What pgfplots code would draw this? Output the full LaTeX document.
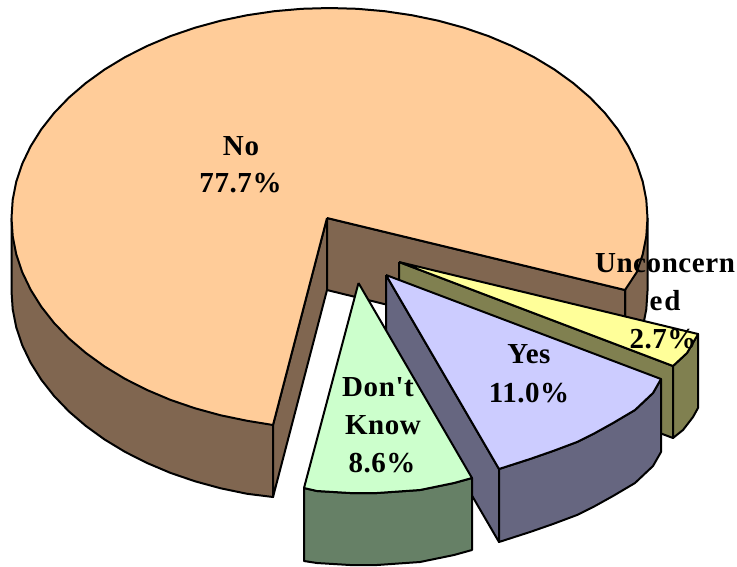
\documentclass[border=0pt]{standalone}
\usepackage{pgfplots}
\pgfplotsset{compat=1.18}
\usepackage{fontspec}
\setmainfont{Liberation Serif}
\newfontfamily\labfont[LetterSpace=2]{Liberation Serif}
\definecolor{noT}{HTML}{FFCC99}
\definecolor{noS}{HTML}{806650}
\definecolor{yesT}{HTML}{CCCCFF}
\definecolor{yesS}{HTML}{666680}
\definecolor{dkT}{HTML}{CCFFCC}
\definecolor{dkS}{HTML}{668066}
\definecolor{unT}{HTML}{FFFF99}
\definecolor{unS}{HTML}{808050}
\newcommand{\lab}[3]{\node[anchor=base,inner sep=0pt] at (axis cs:#1,#2) {\labfont\fontsize{29}{33}\selectfont\bfseries #3};}
\begin{document}
\begin{tikzpicture}
\path[use as bounding box] (0,0) rectangle (737pt,566pt);
\begin{axis}[
  at={(0,0)},anchor=south west,
  width=737pt,height=566pt,scale only axis,hide axis,
  xmin=0,xmax=737,ymin=0,ymax=566,y dir=reverse,clip=false,
  every axis plot/.append style={draw=black,line width=2pt,line join=round,mark=none,forget plot}]
% No: rims and cut faces
\addplot[fill=noS] coordinates {(647.5,218)(647.5,291)(646.3,309.3)(642.7,327.5)(636.7,345.3)(628.3,362.8)(625,363)(625,290)(647.5,218)};
\addplot[fill=noS] coordinates {(11.5,218)(11.5,291)(12.7,309.3)(16.3,327.5)(22.3,345.3)(30.7,362.8)(41.3,379.7)(54.1,396)(69,411.5)(85.9,426)(104.6,439.5)(125.1,451.9)(147.1,463)(170.5,472.9)(195.1,481.3)(220.7,488.3)(247.2,493.8)(273,497)(273,425)(11.5,218)};
\addplot[fill=noS] coordinates {(327,218)(273,425)(273,497)(327,290)(327,218)};
\addplot[fill=noS] coordinates {(327,218)(625,290)(625,363)(327,290)(327,218)};
% No: top
\addplot[fill=noT] coordinates {(327,218)(625,290)(636.7,272.3)(642.7,254.5)(646.3,236.3)(647.5,218)(646.3,199.7)(642.7,181.5)(636.7,163.7)(628.3,146.2)(617.7,129.3)(604.9,113)(590,97.5)(573.1,83)(554.4,69.5)(533.9,57.1)(511.9,46)(488.5,36.1)(463.9,27.7)(438.3,20.7)(411.8,15.2)(384.7,11.2)(357.2,8.8)(329.5,8)(301.8,8.8)(274.3,11.2)(247.2,15.2)(220.7,20.7)(195.1,27.7)(170.5,36.1)(147.1,46)(125.1,57.1)(104.6,69.5)(85.9,83)(69,97.5)(54.1,113)(41.3,129.3)(30.7,146.2)(22.3,163.7)(16.3,181.5)(12.7,199.7)(11.5,218)(12.7,236.3)(16.3,254.5)(22.3,272.3)(30.7,289.8)(41.3,306.7)(54.1,323)(69,338.5)(85.9,353)(104.6,366.5)(125.1,378.9)(147.1,390)(170.5,399.9)(195.1,408.3)(220.7,415.3)(247.2,420.8)(273,425)(327,218)};
% Unconcerned
\addplot[fill=unS] coordinates {(399,262)(673,366)(673,438)(399,335)(399,262)};
\addplot[fill=unS] coordinates {(673,366)(687,353)(698,334)(698,408)(693,417)(683,430)(673,438)(673,366)};
\addplot[fill=unT] coordinates {(399,262)(698,334)(697,336)(687,353)(673,366)(399,262)};
% Yes
\addplot[fill=yesS] coordinates {(386,275)(499,469)(499,542)(386,348)(386,275)};
\addplot[fill=yesS] coordinates {(661,379)(653,393)(635,410)(613,423)(595,433)(577,442)(553,451)(530,459)(499,469)(499,542)(530,532)(553,524)(577,515)(595,506)(613,496)(635,483)(653,466)(661,452)(661,379)};
\addplot[fill=yesT] coordinates {(386,275)(661,379)(653,393)(635,410)(613,423)(595,433)(577,442)(553,451)(530,459)(499,469)(386,275)};
% Don't Know
\addplot[fill=dkS] coordinates {(304,488)(317,491)(350,493)(377,493)(420,490)(454,483)(472,478)(472,550)(454,555)(420,562)(377,565)(350,565)(317,563)(304,561)(304,488)};
\addplot[fill=dkT] coordinates {(358.5,283)(472,478)(454,483)(420,490)(377,493)(350,493)(317,491)(304,488)(358.5,283)};
% Labels
\lab{241}{155}{No}
\lab{240.5}{192}{77.7\%}
\lab{378}{396}{Don't}
\lab{383}{434}{Know}
\lab{382}{472}{8.6\%}
\lab{529}{363}{Yes}
\lab{529}{402}{11.0\%}
\lab{665}{272}{Unconcern}
\lab{665}{310}{e\hspace{2pt}d}
\lab{663}{348}{2.7\%}
\end{axis}
\end{tikzpicture}
\end{document}
